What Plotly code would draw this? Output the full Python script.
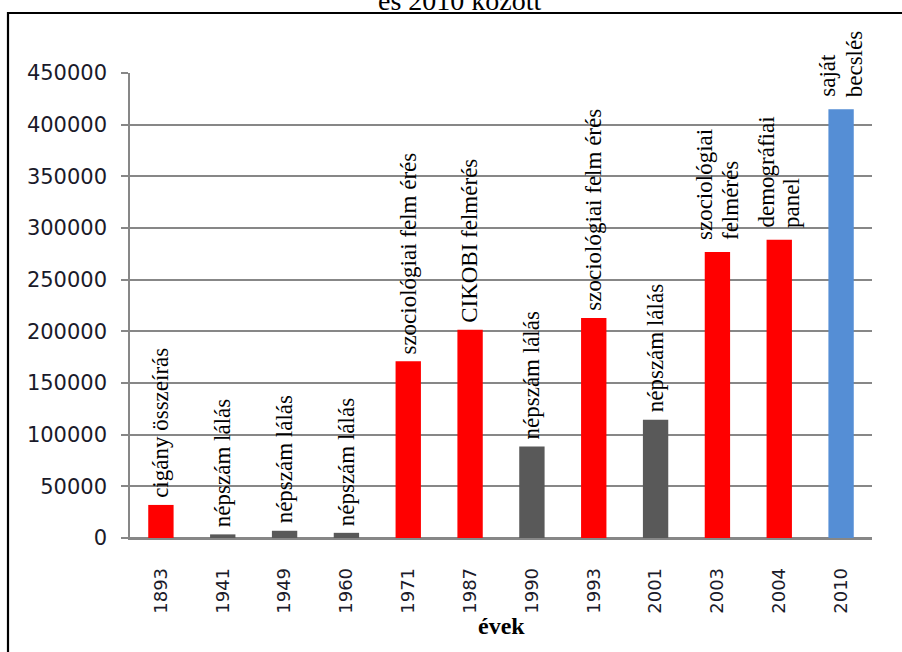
import plotly.graph_objects as go

years = ['1893', '1941', '1949', '1960', '1971', '1987', '1990', '1993', '2001', '2003', '2004', '2010']
values = [32000, 3500, 7000, 5000, 171000, 201500, 88500, 213000, 114500, 276700, 288600, 415000]
sources = ['cigány összeírás', 'népszám lálás', 'népszám lálás', 'népszám lálás',
           'szociológiai felm érés', 'CIKOBI felmérés', 'népszám lálás', 'szociológiai felm érés',
           'népszám lálás', 'szociológiai<br>felmérés', 'demográfiai<br>panel', 'saját<br>becslés']
kinds = ['survey', 'census', 'census', 'census', 'survey', 'survey', 'census', 'survey',
         'census', 'survey', 'survey', 'estimate']
y_ticks = [0, 50000, 100000, 150000, 200000, 250000, 300000, 350000, 400000, 450000]
title_tail = 'és 2010 között'
x_title = 'évek'

kind_colors = {'survey': '#FF0000', 'census': '#595959', 'estimate': '#558ED5'}
colors = [kind_colors[k] for k in kinds]

W, H = 902, 652
ML, MR, MT, MB = 130, 30, 73, 114
PW, PH = W - ML - MR, H - MT - MB


def px_x(p):
    return (p - ML) / PW


def px_y(p):
    return (H - MB - p) / PH


fig = go.Figure()
fig.add_trace(go.Bar(x=years, y=values, marker=dict(color=colors, line=dict(width=0)),
                     width=0.41, showlegend=False, hoverinfo='x+y'))

grid = '#878787'
fig.update_layout(
    width=W, height=H,
    margin=dict(l=ML, r=MR, t=MT, b=MB),
    paper_bgcolor='white', plot_bgcolor='white',
    font=dict(family='Liberation Serif', color='black'),
    xaxis=dict(type='category', range=[-0.5, len(years) - 0.5],
               showline=True, linecolor=grid, linewidth=1.5,
               ticks='', tickangle=-90, ticklabelstandoff=21,
               tickfont=dict(family='DejaVu Sans', size=18, color='#1a1a2a'),
               showgrid=False),
    yaxis=dict(range=[0, 450000], tickvals=y_ticks, ticktext=[str(v) for v in y_ticks],
               showgrid=True, gridcolor=grid, gridwidth=1.5,
               zeroline=True, zerolinecolor=grid, zerolinewidth=1.5,
               showline=True, linecolor=grid, linewidth=1.5,
               ticks='outside', ticklen=7, tickcolor=grid, tickwidth=1.5,
               ticklabelstandoff=10,
               tickfont=dict(family='DejaVu Sans', size=21, color='#1a1a2a')),
)

pitch = 26
for i, (v, s) in enumerate(zip(values, sources)):
    lines = s.split('<br>')
    n = len(lines)
    extra = 5 if n > 1 else 0
    for j, ln in enumerate(lines):
        fig.add_annotation(x=i, y=v, xref='x', yref='y', text=ln, showarrow=False,
                           textangle=-90, yanchor='bottom', xanchor='center',
                           xshift=(j - (n - 1) / 2) * pitch, yshift=5 + extra,
                           font=dict(family='Liberation Serif', size=23, color='black'))

fig.add_annotation(x=0.5, y=px_y(626), xref='paper', yref='paper', text='<b>' + x_title + '</b>',
                   showarrow=False, yanchor='middle', xanchor='center',
                   font=dict(family='Liberation Serif', size=24, color='black'))

fig.add_annotation(x=px_x(460), y=px_y(18), xref='paper', yref='paper', text=title_tail,
                   showarrow=False, yanchor='bottom', xanchor='center',
                   font=dict(family='Liberation Serif', size=28, color='black'))

fig.add_shape(type='rect', xref='paper', yref='paper',
              x0=px_x(8), x1=px_x(920), y0=px_y(670), y1=px_y(13),
              line=dict(color='black', width=2.2), fillcolor='rgba(0,0,0,0)', layer='above')

fig.write_html('out.html', config={'displayModeBar': False},
               post_script="document.body.style.margin='0';document.body.style.overflow='hidden';")
